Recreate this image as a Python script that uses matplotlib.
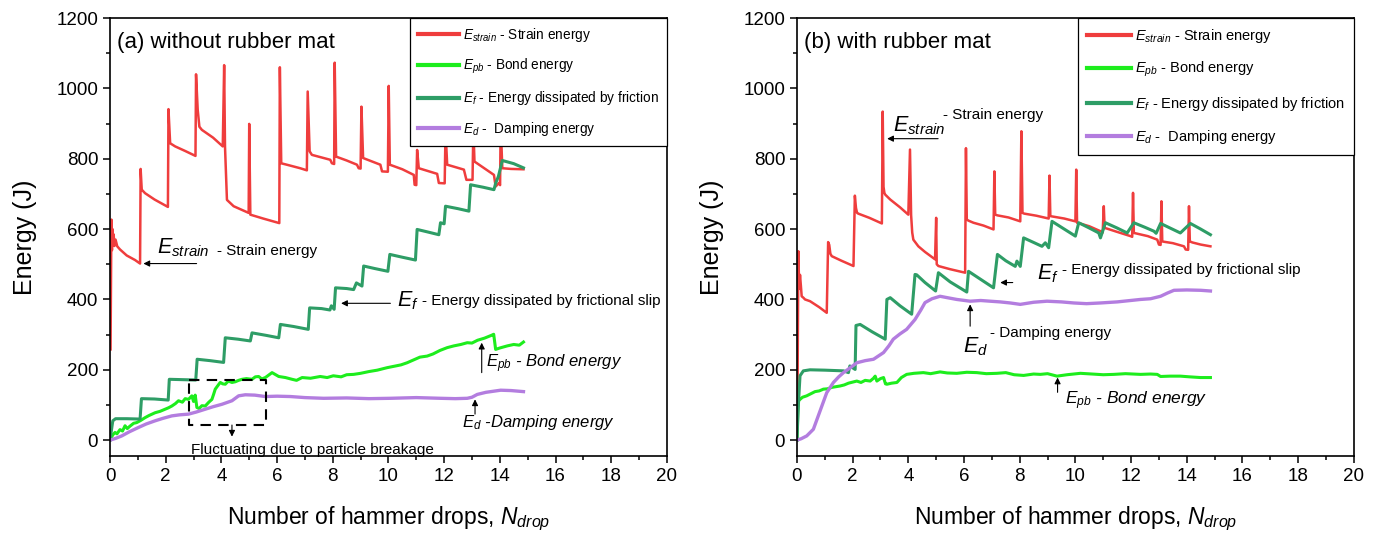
import numpy as np
import matplotlib.pyplot as plt
from matplotlib.ticker import MultipleLocator

plt.rcParams['font.family'] = ['Liberation Sans', 'DejaVu Sans']
plt.rcParams['mathtext.fontset'] = 'custom'
plt.rcParams['mathtext.rm'] = 'Liberation Sans'
plt.rcParams['mathtext.it'] = 'Liberation Sans:italic'

## -------- (a) without rubber mat -------- ##

# strain energy, one block per hammer drop
xa_strain = [0.02, 0.05, 0.07, 0.09, 0.11, 0.13, 0.16, 0.2, 0.26, 0.36, 0.6, 0.9, 1.08,
             1.10, 1.14, 1.26, 1.6, 2.08,
             2.10, 2.16, 2.34, 2.7, 3.07,
             3.09, 3.15, 3.21, 3.3, 3.7, 4.05,
             4.10, 4.13, 4.20, 4.44, 4.98, 5.00, 5.04, 5.5, 6.08,
             6.10, 6.15, 6.35, 6.83, 7.07,
             7.10, 7.17, 7.25, 7.91, 7.97, 8.05,
             8.07, 8.12, 8.5, 8.87, 8.93, 9.00,
             9.03, 9.09, 9.71, 9.77, 9.98,
             10.01, 10.05, 10.5, 10.91, 10.94, 11.00,
             11.03, 11.09, 11.75, 11.81, 12.02,
             12.05, 12.11, 12.71, 12.80, 13.02,
             13.05, 13.09, 13.79, 13.85, 13.97, 14.01,
             14.03, 14.09, 14.4, 14.85]
ya_strain = [258, 627, 540, 600, 560, 585, 552, 570, 551, 542, 525, 512, 502,
             771, 712, 702, 684, 663,
             941, 844, 835, 822, 808,
             1040, 939, 891, 882, 860, 835,
             1066, 835, 683, 665, 646, 899, 641, 630, 617,
             1060, 787, 783, 773, 767,
             991, 821, 811, 797, 787, 785,
             1073, 806, 795, 783, 773, 772,
             948, 802, 783, 764, 763,
             1007, 783, 770, 754, 726, 725,
             825, 773, 757, 731, 730,
             880, 783, 769, 740, 740,
             890, 792, 754, 721, 731, 725,
             900, 773, 771, 770]

# bond energy
xa_bond = [0, 0.1, 0.18, 0.25, 0.36, 0.45, 0.54, 0.62, 0.72, 0.85, 0.96, 1.1, 1.26, 1.4, 1.62,
           1.8, 1.98, 2.1, 2.22, 2.35, 2.46, 2.6, 2.7, 2.82, 2.94, 3.0, 3.06, 3.12, 3.2, 3.3,
           3.42, 3.55, 3.66, 3.72, 3.78, 3.9, 3.96, 4.05, 4.14, 4.25, 4.38, 4.5, 4.62, 4.74, 4.9,
           5.1, 5.22, 5.34, 5.45, 5.58, 5.82, 6.06, 6.3, 6.54, 6.7, 6.9, 7.2, 7.55, 7.8, 8.02,
           8.3, 8.5, 8.75, 9.0, 9.3, 9.6, 9.95, 10.2, 10.45, 10.67, 10.9, 11.13, 11.39, 11.6, 11.85,
           12.11, 12.35, 12.6, 12.83, 13.0, 13.2, 13.45, 13.7, 13.78, 13.85, 14.0, 14.27, 14.5, 14.7, 14.85]
ya_bond = [0, 15, 22, 18, 30, 26, 41, 33, 40, 48, 50, 56, 64, 70, 78,
           82, 88, 92, 97, 104, 112, 108, 118, 116, 126, 110, 128, 93, 90, 98,
           97, 108, 116, 130, 145, 158, 164, 160, 159, 168, 164, 166, 170, 173, 175,
           173, 180, 181, 174, 178, 192, 181, 178, 173, 170, 178, 176, 181, 178, 183,
           180, 186, 187, 190, 195, 199, 206, 210, 214, 220, 228, 236, 239, 245, 255,
           263, 268, 272, 277, 276, 284, 290, 298, 301, 258, 262, 268, 272, 270, 279]

# energy dissipated by friction
xa_fric = [0.0, 0.1, 0.2, 0.6, 1.08, 1.13, 1.6, 2.09, 2.13, 2.6, 3.08, 3.13, 3.6, 4.08, 4.14,
           4.6, 5.04, 5.1, 5.6, 6.06, 6.12, 6.6, 7.12, 7.17, 7.6, 7.9, 7.95, 8.05, 8.1, 8.5,
           8.75, 8.85, 9.05, 9.11, 9.5, 9.98, 10.05, 10.5, 10.97, 11.03, 11.4, 11.81, 11.87, 12.0, 12.05,
           12.5, 12.89, 12.95, 13.4, 13.79, 13.85, 13.95, 14.09, 14.5, 14.85]
ya_fric = [0, 55, 61, 61, 60, 118, 117, 114, 173, 172, 171, 230, 226, 221, 291,
           287, 282, 305, 298, 291, 329, 323, 315, 376, 374, 370, 382, 372, 433, 431,
           428, 447, 438, 495, 488, 480, 528, 520, 512, 599, 592, 584, 618, 615, 665,
           658, 651, 726, 719, 712, 730, 750, 795, 786, 774]

# damping energy
xa_damp = [0, 0.2, 0.42, 0.7, 1.02, 1.3, 1.62, 1.9, 2.22, 2.5, 2.82, 3.1, 3.42, 3.7, 4.02,
           4.38, 4.62, 4.86, 5.2, 5.58, 6.0, 6.48, 7.0, 7.67, 8.5, 9.3, 10.07, 11.0, 11.87, 12.4,
           12.83, 13.0, 13.19, 13.5, 14.03, 14.4, 14.85]
ya_damp = [0, 5, 12, 24, 36, 46, 55, 62, 69, 72, 74, 80, 88, 95, 102,
           112, 126, 129, 128, 124, 125, 124, 121, 119, 120, 118, 119, 121, 119, 118,
           119, 122, 130, 136, 142, 141, 138]

## -------- (b) with rubber mat -------- ##

xb_strain = [0.02, 0.05, 0.08, 0.11, 0.14, 0.17, 0.23, 0.29, 0.47, 0.8, 1.07,
             1.12, 1.16, 1.2, 1.25, 1.6, 2.03,
             2.08, 2.12, 2.16, 2.2, 2.6, 3.05,
             3.08, 3.11, 3.14, 3.17, 3.35, 3.7, 4.0,
             4.06, 4.1, 4.14, 4.18, 4.36, 4.6, 4.96,
             5.0, 5.02, 5.08, 5.5, 6.04,
             6.07, 6.1, 6.16, 6.34, 6.7, 7.06,
             7.09, 7.12, 7.2, 7.6, 8.02,
             8.06, 8.1, 8.16, 8.6, 9.04,
             9.07, 9.1, 9.16, 9.6, 10.0,
             10.03, 10.06, 10.12, 10.5, 10.9, 10.98,
             11.02, 11.05, 11.11, 11.5, 11.98, 12.04,
             12.07, 12.1, 12.16, 12.6, 12.94, 13.0, 13.06,
             13.09, 13.12, 13.18, 13.5, 13.9, 13.96, 14.05,
             14.08, 14.11, 14.2, 14.5, 14.85]
yb_strain = [120, 537, 430, 470, 440, 409, 405, 400, 395, 378, 362,
             563, 555, 530, 523, 510, 495,
             695, 660, 646, 644, 632, 616,
             934, 720, 703, 698, 684, 662, 641,
             826, 640, 590, 570, 551, 535, 514,
             632, 500, 495, 486, 476,
             830, 627, 624, 618, 610, 599,
             764, 641, 639, 633, 622,
             878, 646, 644, 638, 630,
             752, 637, 636, 630, 622,
             769, 618, 617, 608, 594, 590,
             665, 603, 602, 592, 580, 578,
             703, 589, 588, 580, 570, 556, 555,
             679, 565, 564, 560, 551, 542, 541,
             665, 565, 562, 556, 551]

xb_bond = [0, 0.03, 0.06, 0.11, 0.2, 0.35, 0.5, 0.65, 0.8, 0.95, 1.1, 1.25, 1.4, 1.55, 1.7,
           1.85, 2.0, 2.15, 2.3, 2.45, 2.63, 2.75, 2.81, 2.87, 3.0, 3.11, 3.18, 3.23, 3.4, 3.59,
           3.75, 3.94, 4.2, 4.54, 4.8, 5.14, 5.4, 5.74, 6.1, 6.46, 6.8, 7.18, 7.5, 7.8, 8.14,
           8.5, 8.74, 9.0, 9.34, 9.7, 10.18, 10.6, 11.0, 11.38, 11.8, 12.34, 12.7, 12.94, 13.06, 13.4,
           13.77, 14.1, 14.49, 14.85]
yb_bond = [0, 80, 112, 116, 122, 126, 132, 138, 140, 145, 146, 150, 152, 154, 157,
           162, 165, 168, 164, 170, 168, 176, 182, 168, 175, 178, 160, 159, 162, 164,
           178, 187, 190, 192, 189, 194, 191, 190, 193, 192, 189, 190, 192, 186, 184,
           188, 187, 189, 182, 186, 190, 188, 186, 187, 189, 187, 188, 187, 181, 182,
           182, 180, 178, 178]

xb_fric = [0.0, 0.05, 0.11, 0.23, 0.47, 1.0, 1.67, 1.85, 1.9, 2.09, 2.12, 2.27, 2.7, 3.17, 3.23,
           3.35, 3.7, 4.12, 4.24, 4.3, 4.6, 4.98, 5.08, 5.5, 6.1, 6.16, 6.6, 7.06, 7.2, 7.5,
           7.84, 7.9, 8.02, 8.14, 8.5, 8.8, 8.92, 9.04, 9.16, 9.6, 10.0, 10.12, 10.5, 10.84, 10.9,
           11.08, 11.5, 11.86, 12.1, 12.5, 12.82, 12.9, 13.06, 13.4, 13.77, 14.13, 14.5, 14.85]
yb_fric = [0, 100, 183, 197, 200, 199, 197, 192, 211, 201, 326, 329, 308, 287, 400,
           405, 382, 358, 471, 470, 448, 424, 476, 450, 421, 480, 457, 433, 528, 510,
           494, 509, 494, 575, 562, 551, 561, 547, 622, 600, 580, 618, 603, 589, 575,
           618, 603, 589, 618, 605, 594, 588, 616, 603, 589, 616, 600, 584]

xb_damp = [0, 0.15, 0.35, 0.59, 0.83, 1.07, 1.31, 1.5, 1.67, 1.9, 2.15, 2.45, 2.75, 3.11, 3.3,
           3.46, 3.7, 3.94, 4.24, 4.45, 4.6, 4.85, 5.14, 5.4, 5.74, 6.22, 6.6, 6.94, 7.3, 7.66,
           8.02, 8.5, 8.98, 9.5, 9.94, 10.4, 10.9, 11.5, 12.34, 12.7, 13.06, 13.3, 13.54, 14.0, 14.5,
           14.85]
yb_damp = [0, 4, 12, 31, 83, 135, 164, 180, 192, 205, 220, 226, 230, 249, 268,
           287, 302, 315, 343, 370, 391, 402, 409, 405, 400, 395, 397, 395, 393, 390,
           386, 392, 395, 393, 390, 388, 390, 393, 400, 402, 409, 418, 426, 427, 426,
           424]

# colours and legend texts
c_strain = '#ef3d3d'
c_bond = '#1ded1d'
c_fric = '#2e9d66'
c_damp = '#b37ddf'
labels = ['$E_{strain}$ - Strain energy', '$E_{pb}$ - Bond energy',
          '$E_f$ - Energy dissipated by friction', '$E_d$ -  Damping energy']

fig = plt.figure(figsize=(13.75, 5.39), dpi=100)
axa = fig.add_axes([0.080, 0.154, 0.405, 0.8126])
axb = fig.add_axes([0.5796, 0.154, 0.405, 0.8126])


def style_axis(ax):
    ax.set_xlim(0, 20)
    ax.set_ylim(-45, 1200)
    ax.xaxis.set_major_locator(MultipleLocator(2))
    ax.xaxis.set_minor_locator(MultipleLocator(1))
    ax.yaxis.set_major_locator(MultipleLocator(200))
    ax.yaxis.set_minor_locator(MultipleLocator(100))
    ax.tick_params(which='both', direction='out', top=False, right=False, labelsize=13.5, width=1.1)
    ax.tick_params(which='major', length=5)
    ax.tick_params(which='minor', length=3)
    for s in ax.spines.values():
        s.set_linewidth(1.2)
    ax.set_xlabel('Number of hammer drops, $N_{drop}$', fontsize=16.5, labelpad=14)
    ax.set_ylabel('Energy (J)', fontsize=18, labelpad=14)


def arrow(ax, head, tail):
    ax.annotate('', xy=head, xytext=tail,
                arrowprops=dict(arrowstyle='-|>', color='black', lw=0.8,
                                mutation_scale=9, shrinkA=0, shrinkB=0))


for ax, data, lsize, lspace in [(axa, (xa_strain, ya_strain, xa_bond, ya_bond, xa_fric, ya_fric, xa_damp, ya_damp), 9.8, 0.95),
                                (axb, (xb_strain, yb_strain, xb_bond, yb_bond, xb_fric, yb_fric, xb_damp, yb_damp), 10.5, 1.05)]:
    ax.plot(data[0], data[1], color=c_strain, lw=1.8, label=labels[0])
    ax.plot(data[2], data[3], color=c_bond, lw=2.2, label=labels[1])
    ax.plot(data[4], data[5], color=c_fric, lw=2.2, label=labels[2])
    ax.plot(data[6], data[7], color=c_damp, lw=2.4, label=labels[3])
    style_axis(ax)
    leg = ax.legend(loc='upper right', bbox_to_anchor=(1, 1), borderaxespad=0, fontsize=lsize,
                    handlelength=3.0, labelspacing=lspace, fancybox=False, framealpha=1,
                    edgecolor='black', handletextpad=0.3, borderpad=0.6)
    leg.get_frame().set_linewidth(0.9)
    for h in leg.legend_handles:
        h.set_linewidth(3)

# panel (a) annotations
axa.text(0.013, 0.945, '(a) without rubber mat', transform=axa.transAxes, fontsize=16, va='center')
axa.text(1.68, 532, '$E_{strain}$', fontsize=15.5, va='baseline')
axa.text(3.83, 527, '- Strain energy', fontsize=11, va='baseline')
arrow(axa, (1.2, 502), (3.11, 502))
axa.text(10.31, 381, '$E_f$', fontsize=15.5, va='baseline')
axa.text(11.21, 383, '- Energy dissipated by frictional slip', fontsize=11, va='baseline')
arrow(axa, (8.3, 389), (10.07, 389))
axa.text(13.49, 208, '$E_{pb}$ - Bond energy', fontsize=12, fontstyle='italic', va='baseline')
arrow(axa, (13.35, 277), (13.35, 192))
axa.text(12.65, 38, '$E_d$ -Damping energy', fontsize=12, fontstyle='italic', va='baseline')
arrow(axa, (13.11, 116), (13.11, 74))
axa.plot([2.82, 5.6, 5.6, 2.82, 2.82], [171, 171, 43, 43, 171], color='black', lw=1.5, ls=(0, (5, 3.5)))
arrow(axa, (4.38, 10), (4.38, 43))
axa.text(2.91, -27, 'Fluctuating due to particle breakage', fontsize=11, va='center')

# panel (b) annotations
axb.text(0.013, 0.945, '(b) with rubber mat', transform=axb.transAxes, fontsize=16, va='center')
axb.text(3.45, 877, '$E_{strain}$', fontsize=15.5, va='baseline')
axb.text(5.25, 913, '- Strain energy', fontsize=11, va='baseline')
arrow(axb, (3.24, 857), (5.07, 857))
axb.text(8.63, 457, '$E_f$', fontsize=15.5, va='baseline')
axb.text(9.53, 471, '- Energy dissipated by frictional slip', fontsize=11, va='baseline')
arrow(axb, (7.3, 448), (7.75, 448))
axb.text(5.97, 249, '$E_d$', fontsize=15.5, va='baseline')
axb.text(6.94, 294, '- Damping energy', fontsize=11, va='baseline')
arrow(axb, (6.22, 386), (6.22, 324))
axb.text(9.64, 102, '$E_{pb}$ - Bond energy', fontsize=12.5, fontstyle='italic', va='baseline')
arrow(axb, (9.36, 178), (9.36, 136))

fig.savefig('out.png', dpi=100)
